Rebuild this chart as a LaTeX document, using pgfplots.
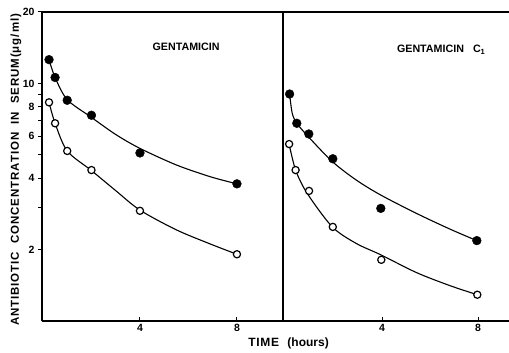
\documentclass[border=0pt]{standalone}
\usepackage{pgfplots}
\pgfplotsset{compat=1.18}
\usepackage{fontspec}
\setmainfont{Liberation Sans}
\tikzset{
  fitline/.style={black, line width=1.1pt, smooth, tension=0.5},
  fillpt/.style={only marks, mark=*, mark size=4.4pt, mark options={fill=black, draw=black}},
  openpt/.style={only marks, mark=*, mark size=3.6pt, mark options={fill=white, draw=black, line width=1.2pt}},
}
\begin{document}
\begin{tikzpicture}[x=1pt,y=1pt]
\path[use as bounding box] (0,0) rectangle (509,353);
% ---------- left panel: Gentamicin ----------
\begin{axis}[
  scale only axis, height=309pt, width=241pt,
  at={(42pt,32pt)}, anchor=south west,
  ymode=log, ymin=1, ymax=20,
  xmin=-0.04, xmax=9.9,
  axis x line*=box, axis y line*=left,
  axis line style={line width=1.8pt},
  xtick pos=left,
  xtick={4,8}, xticklabels={4,8},
  xtick align=inside, ytick align=outside,
  major tick length=4pt, minor tick length=3.5pt,
  tick style={black, line width=1pt},
  tick label style={font=\fontsize{10.5}{10.5}\selectfont\bfseries},
  ytick={2,4,6,8,10,20}, yticklabels={2,4,6,8,10,20},
  minor ytick={3,5,7,9},
  clip=false,
  ylabel={\fontsize{11.5}{12}\selectfont\bfseries\addfontfeature{LetterSpace=8}ANTIBIOTIC\hspace{4pt} CONCENTRATION\hspace{4pt} IN\hspace{4pt} SERUM\hspace{1pt}(μg/ml)},
  ylabel style={at={(axis description cs:-0.108,0.489)}, anchor=center},
  xlabel={\fontsize{12}{12}\selectfont\bfseries{\addfontfeature{LetterSpace=6}TIME}\hspace{5pt} (hours)},
  xlabel style={at={(axis description cs:1.023,-0.071)}, anchor=center},
]
\addplot[fitline, no marks] coordinates {(0.25,12.6) (0.5,10.6) (1,8.55) (2,7.2) (3,6.1) (4,5.33) (5.5,4.54) (6.9,4.05) (8,3.78)};
\addplot[fitline, no marks] coordinates {(0.25,8.33) (0.5,6.8) (1,5.2) (2,4.3) (3,3.54) (4,2.93) (5.5,2.42) (6.9,2.11) (8,1.91)};
\addplot[fillpt] coordinates {(0.25,12.6) (0.5,10.6) (1,8.5) (2,7.35) (4,5.1) (8,3.78)};
\addplot[openpt] coordinates {(0.25,8.33) (0.5,6.8) (1,5.2) (2,4.32) (4,2.91) (8,1.91)};
\node[font=\fontsize{10.7}{11}\selectfont\bfseries] at (rel axis cs:0.598,0.887) {GENTAMICIN};
\end{axis}
% ---------- right panel: Gentamicin C1 ----------
\begin{axis}[
  scale only axis, height=309pt, width=226pt,
  at={(283pt,32pt)}, anchor=south west,
  ymode=log, ymin=1, ymax=20,
  xmin=-0.125, xmax=9.29,
  axis x line*=box, axis y line*=left,
  axis line style={line width=1.8pt},
  xtick pos=left,
  xtick={4,8}, xticklabels={4,8},
  xtick align=inside,
  major tick length=4pt,
  tick style={black, line width=1pt},
  tick label style={font=\fontsize{10.5}{10.5}\selectfont\bfseries},
  ytick=\empty,
  clip=false,
]
\addplot[fitline, no marks] coordinates {(0.15,9.03) (0.26,7.49) (0.45,6.8) (0.93,5.97) (1.93,4.69) (2.93,3.92) (3.95,3.39) (5.43,2.84) (6.82,2.44) (7.95,2.18)};
\addplot[fitline, no marks] coordinates {(0.13,5.56) (0.4,4.32) (0.88,3.45) (1.93,2.49) (2.93,2.12) (3.95,1.9) (5.43,1.6) (6.82,1.41) (7.97,1.29)};
\addplot[fillpt] coordinates {(0.15,9.03) (0.45,6.8) (0.95,6.13) (1.95,4.82) (3.95,2.98) (7.95,2.18)};
\addplot[openpt] coordinates {(0.13,5.56) (0.4,4.32) (0.96,3.53) (1.95,2.49) (3.97,1.81) (7.97,1.29)};
\node[font=\fontsize{10.7}{11}\selectfont\bfseries] at (rel axis cs:0.699,0.877) {GENTAMICIN\hspace{9pt}C\raisebox{-2.5pt}{\fontsize{7.5}{7.5}\selectfont 1}};
\end{axis}
\end{tikzpicture}
\end{document}
